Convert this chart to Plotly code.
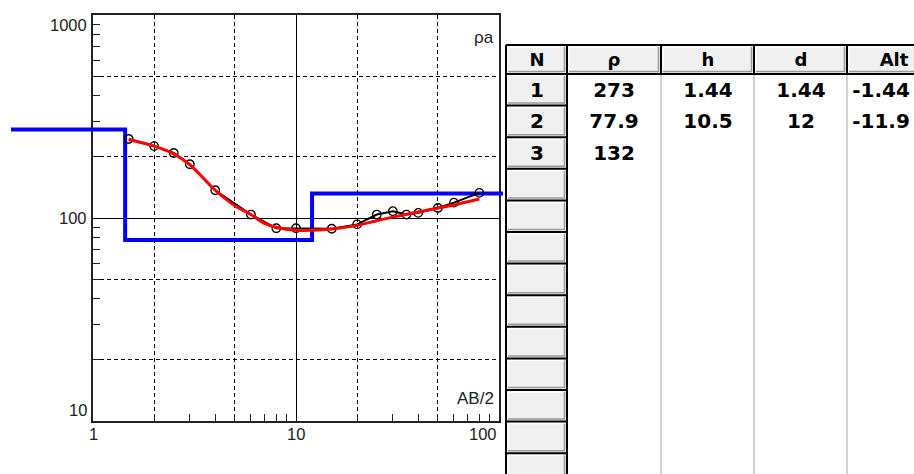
import plotly.graph_objects as go

# ---------------- data ----------------
ab2_obs = [1.5, 2, 2.5, 3, 4, 6, 8, 10, 15, 20, 25, 30, 35, 40, 50, 60, 80]
rho_obs = [245, 226, 209, 184, 137, 104, 89, 89, 88.5, 93, 104, 108, 104, 106, 112, 119, 133]

ab2_fit = [1.5, 2, 2.5, 3, 4, 5, 6, 7, 8, 10, 12, 15, 20, 25, 30, 40, 50, 60, 80]
rho_fit = [243, 226, 207, 183, 137, 115, 104, 94, 90, 87, 87, 88.3, 92, 97, 101, 107, 112, 116, 124]

layer_rho = [273, 77.9, 132]
layer_h = [1.44, 10.5]
layer_d = [1.44, 12]
layer_alt = [-1.44, -11.9]

x_ticklabels = ["1", "10", "100"]
y_ticklabels = ["10", "100", "1000"]
col_headers = ["N", "\u03c1", "h", "d", "Alt"]
n_rows = 13

# ---------------- geometry helpers ----------------
W, H = 914, 474
def fx(p):
    return p / W
def fy(p):
    return 1 - p / H

PL, PR, PT, PB = 93, 499, 15, 421
DEC = (PR - PL) / 2.0

fig = go.Figure()

# model (blue) line on a wider, invisible axis so it can run past the frame
TL, TR = 11, 503
x2_range = [(TL - PL) / DEC, (TR - PL) / DEC]
x_start = 10 ** x2_range[0]
x_end = 10 ** x2_range[1]
bx = [x_start, layer_d[0], layer_d[0], layer_d[1], layer_d[1], x_end]
by = [layer_rho[0], layer_rho[0], layer_rho[1], layer_rho[1], layer_rho[2], layer_rho[2]]
fig.add_trace(go.Scatter(x=bx, y=by, mode="lines", xaxis="x2", yaxis="y2",
                         line=dict(color="#0000ff", width=4), hoverinfo="skip"))
fig.add_trace(go.Scatter(x=ab2_obs, y=rho_obs, mode="lines+markers", xaxis="x2", yaxis="y2",
                         line=dict(color="black", width=2),
                         marker=dict(symbol="circle-open", size=8.5, color="black",
                                     line=dict(width=1.3, color="black"))))
fig.add_trace(go.Scatter(x=ab2_fit, y=rho_fit, mode="lines", xaxis="x2", yaxis="y2",
                         line=dict(color="#ff0000", width=3, shape="spline")))

# dummy invisible trace so the overlay grid axes are drawn
fig.add_trace(go.Scatter(x=[1], y=[10], xaxis="x3", yaxis="y3", mode="markers",
                         marker=dict(opacity=0), hoverinfo="skip"))

# ---------------- table (cartesian grid in pixel units) ----------------
col_w = [61, 94, 93, 93, 93]
header_h = 29
row_h = 31.6
TBL_L, TBL_T = 506, 45
tbl_w = W - TBL_L          # visible width
tbl_h = H - TBL_T          # visible height

xe = [0]
for w in col_w:
    xe.append(xe[-1] + w)
body_xe = xe[:-1] + [tbl_w]            # last column shown up to window edge
ye_body = [header_h + i * row_h for i in range(n_rows + 1)]

def col(vals):
    out = [""] * n_rows
    for i, v in enumerate(vals):
        out[i] = "<b>%s</b>" % v
    return out

cols = [col([str(i + 1) for i in range(len(layer_rho))]),
        col([("%g" % v) for v in layer_rho]),
        col([("%g" % v) for v in layer_h]),
        col([("%g" % v) for v in layer_d]),
        col([("%g" % v) for v in layer_alt])]
body_text = [[cols[c][r] for c in range(5)] for r in range(n_rows)]
body_z = [[1, 0, 0, 0, 0] for r in range(n_rows)]

cs = [[0, "white"], [1, "#f0f0f0"]]
fig.add_trace(go.Heatmap(x=xe, y=[0, header_h], z=[[1, 1, 1, 1, 1]],
                         text=[["<b>%s</b>" % h for h in col_headers]], texttemplate="%{text}",
                         textfont=dict(family="DejaVu Sans", size=18, color="black"),
                         colorscale=cs, zmin=0, zmax=1, showscale=False, hoverinfo="skip",
                         xaxis="x4", yaxis="y4"))
fig.add_trace(go.Heatmap(x=body_xe, y=ye_body, z=body_z,
                         text=body_text, texttemplate="%{text}",
                         textfont=dict(family="DejaVu Sans", size=20, color="black"),
                         colorscale=cs, zmin=0, zmax=1, showscale=False, hoverinfo="skip",
                         xaxis="x4", yaxis="y4"))

def seg_trace(segs, color, width):
    xs, ys = [], []
    for (x0, y0, x1, y1) in segs:
        xs += [x0, x1, None]
        ys += [y0, y1, None]
    return go.Scatter(x=xs, y=ys, mode="lines", line=dict(color=color, width=width),
                      xaxis="x4", yaxis="y4", hoverinfo="skip", connectgaps=False)

bottom = ye_body[-1]
# light body column separators
light = [(x, header_h, x, bottom) for x in xe[2:5]]
fig.add_trace(seg_trace(light, "#d2d2d2", 2))

# 3D bevel on gray button cells
hi, sh = [], []
btn_cells = [(xe[i], 0, xe[i + 1], header_h) for i in range(5)]
btn_cells += [(xe[0], ye_body[r], xe[1], ye_body[r + 1]) for r in range(n_rows)]
for (x0, y0, x1, y1) in btn_cells:
    hi += [(x0 + 2, y0 + 2, x1 - 2, y0 + 2), (x0 + 2, y0 + 2, x0 + 2, y1 - 2)]
    sh += [(x0 + 2, y1 - 2.5, x1 - 2, y1 - 2.5), (x1 - 2.5, y0 + 2, x1 - 2.5, y1 - 2)]
fig.add_trace(seg_trace(hi, "white", 1.5))
fig.add_trace(seg_trace(sh, "#9a9a9a", 1.5))

# black borders
dark = [(xe[0], 0, xe[-1], 0), (xe[0], header_h, xe[-1], header_h)]
dark += [(x, 0, x, header_h) for x in xe[1:5]]
dark += [(xe[0], 0, xe[0], bottom), (xe[1], 0, xe[1], bottom)]
dark += [(xe[0], y, xe[1], y) for y in ye_body]
fig.add_trace(seg_trace(dark, "black", 2))

# ---------------- axes ----------------
axis_common = dict(type="log", showline=True, linecolor="#222", linewidth=2, mirror=True,
                   zeroline=False, showticklabels=False, ticks="",
                   showgrid=True, gridcolor="black", gridwidth=1)

fig.update_layout(
    width=W, height=H,
    margin=dict(l=0, r=0, t=0, b=0),
    paper_bgcolor="white", plot_bgcolor="rgba(0,0,0,0)",
    showlegend=False,
    font=dict(family="Liberation Sans, Arial", color="#222"),
    xaxis=dict(domain=[fx(PL), fx(PR)], range=[0, 2], anchor="y",
               tickvals=[1, 10, 100],
               minor=dict(tickvals=[2, 3, 4, 5, 6, 7, 8, 9, 20, 30, 40, 50, 60, 70, 80, 90],
                          ticks="inside", ticklen=7, tickwidth=1, tickcolor="#222", showgrid=False),
               **axis_common),
    yaxis=dict(domain=[fy(PB), fy(PT)], range=[1, 3], anchor="x",
               tickvals=[10, 100, 1000],
               minor=dict(tickvals=[20, 30, 40, 50, 60, 70, 80, 90, 200, 300, 400, 500, 600, 700, 800, 900],
                          ticks="inside", ticklen=7, tickwidth=1, tickcolor="#222", showgrid=False),
               **axis_common),
    xaxis3=dict(type="log", overlaying="x", anchor="y", range=[0, 2], showline=False,
                showticklabels=False, ticks="", zeroline=False,
                tickvals=[2, 5, 20, 50], showgrid=True, gridcolor="black", gridwidth=1,
                griddash="4px,3px"),
    yaxis3=dict(type="log", overlaying="y", anchor="x", range=[1, 3], showline=False,
                showticklabels=False, ticks="", zeroline=False,
                tickvals=[20, 50, 200, 500], showgrid=True, gridcolor="black", gridwidth=1,
                griddash="4px,3px"),
    xaxis2=dict(type="log", domain=[fx(TL), fx(TR)], range=x2_range, visible=False,
                showgrid=False, anchor="y2"),
    yaxis2=dict(type="log", domain=[fy(PB), fy(PT)], range=[1, 3], visible=False,
                showgrid=False, anchor="x2"),
    xaxis4=dict(domain=[fx(TBL_L - 2), 1.0], range=[-2, tbl_w], visible=False,
                showgrid=False, zeroline=False, anchor="y4"),
    yaxis4=dict(domain=[0.0, fy(TBL_T - 2)], range=[tbl_h, -2], visible=False,
                showgrid=False, zeroline=False, anchor="x4"),
)

# tick labels
lab_font = dict(family="Liberation Sans, Arial", size=16.5, color="#222")
y_shift = [11, 0, -10]
for i, t in enumerate(y_ticklabels):
    fig.add_annotation(xref="paper", yref="y", x=fx(89), y=1 + i, text=t, showarrow=False,
                       xanchor="right", yanchor="middle", yshift=y_shift[i], font=lab_font)
x_shift = [0, 0, -16]
for i, t in enumerate(x_ticklabels):
    fig.add_annotation(xref="x", yref="paper", x=i, y=fy(433.5), text=t, showarrow=False,
                       xanchor="center", yanchor="middle", xshift=x_shift[i], font=lab_font)

fig.add_annotation(xref="paper", yref="paper", x=fx(496), y=fy(37), text="\u03c1a", showarrow=False,
                   xanchor="right", yanchor="middle",
                   font=dict(family="Liberation Sans, Arial", size=17, color="#222"))
fig.add_annotation(xref="paper", yref="paper", x=fx(496), y=fy(398), text="AB/2", showarrow=False,
                   xanchor="right", yanchor="middle",
                   font=dict(family="Liberation Sans, Arial", size=17, color="#222"))

fig.write_html("out.html", config={"displayModeBar": False},
               post_script="document.body.style.margin='0';document.body.style.overflow='hidden';")
